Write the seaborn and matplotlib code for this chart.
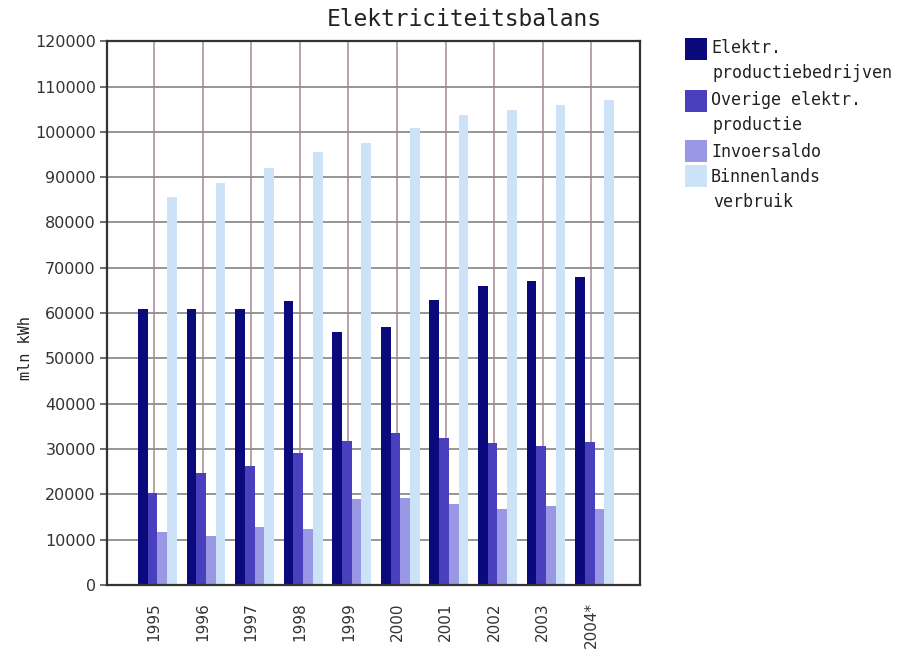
import matplotlib
matplotlib.use("Agg")
import matplotlib.pyplot as plt
import seaborn as sns
import pandas as pd
from matplotlib.patches import Rectangle

# Electricity balance, million kWh per year
years = ["1995", "1996", "1997", "1998", "1999", "2000", "2001", "2002", "2003", "2004*"]
series_names = [
    "Elektr. productiebedrijven",
    "Overige elektr. productie",
    "Invoersaldo",
    "Binnenlands verbruik",
]
legend_lines = [
    ["Elektr.", "productiebedrijven"],
    ["Overige elektr.", "productie"],
    ["Invoersaldo"],
    ["Binnenlands", "verbruik"],
]
productiebedrijven = [61000, 61000, 61000, 62600, 55800, 56900, 62800, 66000, 67000, 68000]
overige_productie = [20300, 24700, 26300, 29100, 31800, 33500, 32400, 31300, 30700, 31500]
invoersaldo = [11700, 10800, 12800, 12300, 19000, 19200, 17800, 16700, 17400, 16700]
binnenlands_verbruik = [85600, 88700, 92000, 95500, 97600, 100800, 103700, 104800, 105900, 107000]

colors = ["#0b0a7c", "#4a3fbc", "#9898e4", "#cce2f6"]

frames = []
for name, vals in zip(series_names,
                      [productiebedrijven, overige_productie, invoersaldo, binnenlands_verbruik]):
    frames.append(pd.DataFrame({"jaar": years, "reeks": name, "waarde": vals}))
df = pd.concat(frames, ignore_index=True)

sns.set_style("white")
fig = plt.figure(figsize=(9.14, 6.55), dpi=100)
ax = fig.add_axes([0.117, 0.107, 0.583, 0.830])

sns.barplot(data=df, x="jaar", y="waarde", hue="reeks", order=years,
            hue_order=series_names, palette=colors, width=0.8,
            saturation=1, errorbar=None, legend=False, ax=ax,
            linewidth=0, edgecolor="none", zorder=2)

# shift every group slightly to the right of its category line
for patch in ax.patches:
    patch.set_x(patch.get_x() + 0.07)

ax.set_xlim(-0.97, 10.0)
ax.set_ylim(0, 120000)
ax.set_yticks(range(0, 120001, 10000))
ax.set_yticklabels([str(v) for v in range(0, 120001, 10000)],
                   fontsize=11.5, color="#333333", family="DejaVu Sans")
ax.set_xticks(range(len(years)))
ax.set_xticklabels(years, rotation=90, fontsize=11, color="#333333",
                   family="DejaVu Sans")
ax.tick_params(axis="y", left=True, length=5, width=1.2, color="#555555", pad=3)
ax.tick_params(axis="x", bottom=False, pad=9)

# grid: vertical lines at the categories, horizontal at the y ticks
ax.set_axisbelow(True)
ax.xaxis.grid(True, color="#b49aa8", linewidth=1.3, zorder=0)
ax.yaxis.grid(True, color="#8e8e8e", linewidth=1.3, zorder=0)

for side in ["left", "right", "top", "bottom"]:
    ax.spines[side].set_visible(True)
    ax.spines[side].set_color("#333333")
    ax.spines[side].set_linewidth(1.6)
    ax.spines[side].set_zorder(4)

ax.set_xlabel("")
ax.set_ylabel("")

mono = ["DejaVu Sans Mono"]
fig.text(25 / 914, 1 - 348 / 655, "mln kWh", rotation=90, ha="center", va="center",
         fontsize=11, family=mono, color="#222222")
fig.text(464 / 914, 1 - 19 / 655, "Elektriciteitsbalans", ha="center", va="center",
         fontsize=16.5, family=mono, color="#222222")

# legend: colour squares with wrapped labels
sq_tops = [38, 90, 140, 165]
first_line_y = [48, 100, 152, 177]
line_step = 25
for col, lines, sq, ty in zip(colors, legend_lines, sq_tops, first_line_y):
    fig.add_artist(Rectangle((685 / 914, 1 - (sq + 22) / 655), 22 / 914, 22 / 655,
                             transform=fig.transFigure, facecolor=col,
                             edgecolor="none"))
    for k, line in enumerate(lines):
        x = 711 if k == 0 else 713
        fig.text(x / 914, 1 - (ty + k * line_step) / 655, line, ha="left",
                 va="center", fontsize=12, family=mono, color="#222222")

fig.savefig("out.png", dpi=100, facecolor="white")
